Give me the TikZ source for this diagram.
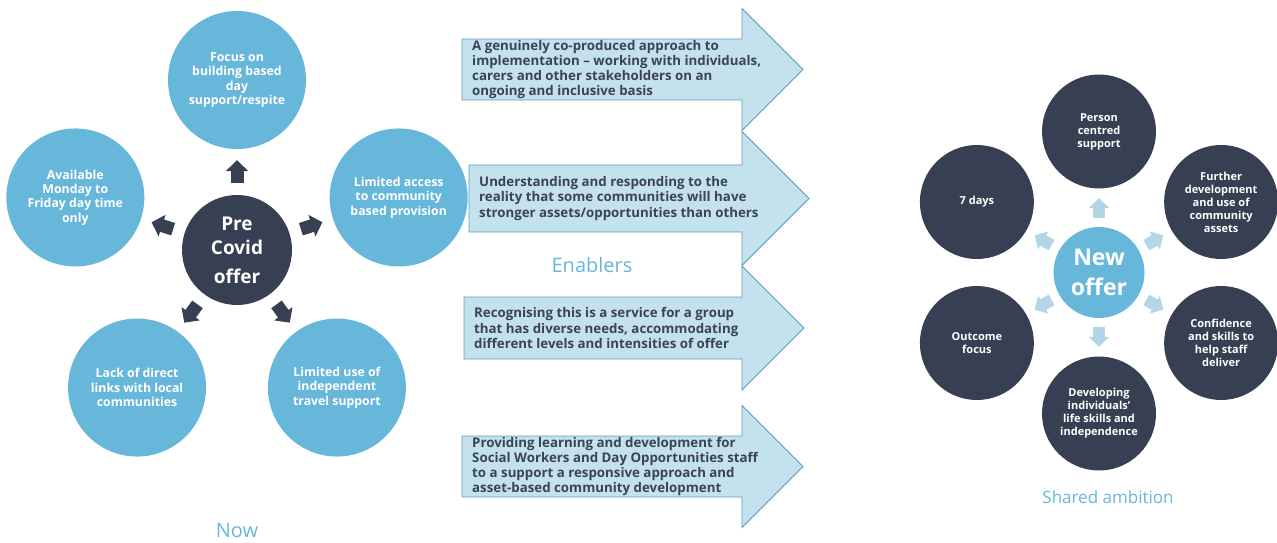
\documentclass[tikz,border=0pt]{standalone}
\usepackage{fontspec}
\setmainfont{Open Sans}
\usetikzlibrary{arrows.meta,calc}

\definecolor{skyblue}{HTML}{67B7DA}
\definecolor{slate}{HTML}{374052}
\definecolor{palefill}{HTML}{C4E2EE}
\definecolor{paleedge}{HTML}{5D9CBA}
\definecolor{paleblue}{HTML}{B3D6E7}
\definecolor{inktext}{HTML}{3B4354}

\begin{document}
\begin{tikzpicture}[x=1pt,y=1pt]
    % `oldnode' is used for the five circles round the Pre Covid offer.
    % `newnode' is used for the six circles round the New offer.
    % `enabler' is used for the big arrows in the middle.
    \tikzstyle{oldnode} = [circle,fill=skyblue,text=white,minimum size=138pt,inner sep=0pt,align=center,font=\bfseries\fontsize{12.3}{14.4}\selectfont]
    \tikzstyle{newnode} = [circle,fill=slate,text=white,minimum size=114pt,inner sep=0pt,align=center,font=\bfseries\fontsize{11}{13}\selectfont]
    \tikzstyle{hub} = [circle,inner sep=0pt,text=white,align=center]
    \tikzstyle{oldarrow} = [slate,line width=13pt,-{Triangle[width=22pt,length=11pt]},shorten <=12pt,shorten >=11pt]
    \tikzstyle{newarrow} = [paleblue,line width=12pt,-{Triangle[width=20pt,length=10pt]},shorten <=9pt,shorten >=9.5pt]
    \tikzstyle{enabler} = [fill=palefill,draw=paleedge,line width=0.8pt]
    \tikzstyle{enablertext} = [anchor=west,align=left,text=inktext,inner sep=0pt,font=\bfseries\fontsize{13.3}{15.3}\selectfont]
    \tikzstyle{caption} = [text=skyblue]
    %
    \useasboundingbox (0,0) rectangle (1277,542);

    % Now.
    \node[hub,fill=slate,minimum size=110pt,font=\bfseries\fontsize{19}{24}\selectfont] (pre) at (237,292) {Pre\\Covid\\[5pt]offer};
    \node[oldnode] (focus) at ($(pre)+(90:170)$) {Focus on\\building based\\day\\support/respite};
    \node[oldnode] (available) at ($(pre)+(162:170)$) {Available\\Monday to\\Friday day time\\only};
    \node[oldnode] (links) at ($(pre)+(234:170)$) {Lack of direct\\links with local\\communities};
    \node[oldnode] (travel) at ($(pre)+(306:170)$) {Limited use of\\independent\\travel support};
    \node[oldnode] (access) at ($(pre)+(18:170)$) {Limited access\\to community\\based provision};
    \foreach \n in {focus,available,links,travel,access}
        \draw[oldarrow] (pre) -- (\n);
    \node[caption,font=\fontsize{20}{24}\selectfont] (now) at (237,12) {Now};

    % Enablers.
    \foreach \i/\lx/\my/\h/\txt in {
        1/462/472.5/30.5/{A genuinely co-produced approach to\\implementation – working with individuals,\\carers and other stakeholders on an\\ongoing and inclusive basis},
        2/469/343.5/33.5/{Understanding and responding to the\\reality that some communities will have\\stronger assets/opportunities than others},
        3/464/214/31/{Recognising this is a service for a group\\that has diverse needs, accommodating\\different levels and intensities of offer},
        4/462/75.5/30.5/{Providing learning and development for\\Social Workers and Day Opportunities staff\\to a support a responsive approach and\\asset-based community development}}{
      \draw[enabler] (\lx,\my+\h) -- (742,\my+\h) -- (742,\my+2*\h) -- (742+2*\h,\my)
        -- (742,\my-2*\h) -- (742,\my-\h) -- (\lx,\my-\h) -- cycle;
      \node[enablertext] (enabler\i) at (\lx+10,\my) {\txt};
    }
    \node[caption,font=\fontsize{20}{24}\selectfont] (enablers) at (592,277) {Enablers};

    % Shared ambition.
    \node[hub,fill=skyblue,minimum size=91pt,font=\bfseries\fontsize{23}{30}\selectfont] (new) at (1099,269.5) {New\\offer};
    \node[newnode] (person) at ($(new)+(90:141)$) {Person\\centred\\support};
    \node[newnode] (assets) at ($(new)+(30:141)$) {Further\\development\\and use of\\community\\assets};
    \node[newnode] (confidence) at ($(new)+(-30:141)$) {Confidence\\and skills to\\help staff\\deliver};
    \node[newnode] (lifeskills) at ($(new)+(-90:141)$) {Developing\\individuals’\\life skills and\\independence};
    \node[newnode] (outcome) at ($(new)+(210:141)$) {Outcome\\focus};
    \node[newnode] (sevendays) at ($(new)+(150:141)$) {7 days};
    \foreach \n in {person,assets,confidence,lifeskills,outcome,sevendays}
        \draw[newarrow] (new) -- (\n);
    \node[caption,font=\fontsize{17}{20}\selectfont] (shared) at (1108,45) {Shared ambition};
\end{tikzpicture}
\end{document}
